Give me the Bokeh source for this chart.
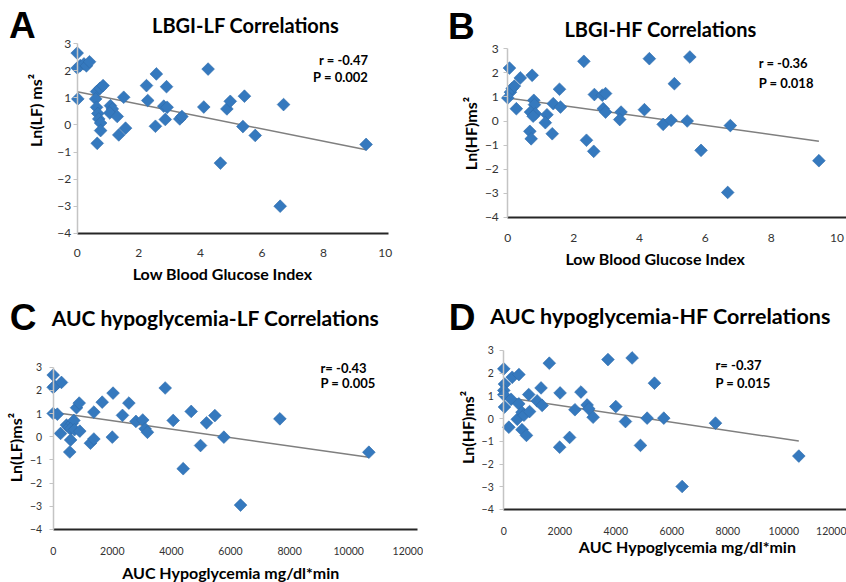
import numpy as np
from bokeh.plotting import figure
from bokeh.models import Range1d, Label, FixedTicker
from bokeh.layouts import column, row
from bokeh.embed import file_html
from bokeh.resources import INLINE

# ---------------- data ----------------
# Panel A: LBGI vs Ln(LF)
lbgi_a = [0.00, 0.00, 0.10, 0.22, 0.30, 0.40, 0.02, 0.63, 0.74, 0.84, 0.60, 0.63, 0.67, 0.70,
          0.76, 0.76, 0.65, 1.08, 1.14, 1.06, 1.30, 1.35, 1.51, 1.57, 2.25, 2.29, 2.57, 2.90,
          2.54, 2.81, 2.92, 2.86, 3.33, 3.40, 4.11, 4.25, 4.65, 4.86, 4.97, 5.43, 5.38, 5.78,
          6.70, 6.59, 9.38]
lf_a = [2.65, 2.10, 2.19, 2.25, 2.18, 2.33, 0.96, 1.23, 1.35, 1.45, 0.96, 0.65, 0.42, 0.22,
        0.07, -0.21, -0.68, 0.71, 0.59, 0.44, 0.31, -0.37, 1.02, -0.12, 1.45, 0.90, 1.88, 1.41,
        -0.05, 0.69, 0.65, 0.20, 0.22, 0.31, 0.66, 2.06, -1.41, 0.59, 0.87, 1.06, -0.06, -0.39,
        0.75, -3.00, -0.72]
trend_a_x = [0.0, 9.38]
trend_a_y = [1.22, -0.92]

# Panel B: LBGI vs Ln(HF)
lbgi_b = [0.05, 0.00, 0.08, 0.13, 0.20, 0.38, 0.26, 0.74, 0.79, 0.81, 0.69, 0.84, 0.77, 0.67,
          0.71, 1.19, 1.14, 1.35, 1.38, 1.57, 1.60, 2.31, 2.39, 2.61, 2.63, 2.87, 2.97, 2.90,
          2.97, 3.44, 3.40, 4.15, 4.30, 4.72, 4.96, 5.06, 5.45, 5.53, 5.87, 6.76, 6.68, 9.45]
hf_b = [2.20, 0.96, 1.20, 1.35, 1.45, 1.79, 0.51, 1.90, 0.86, 0.68, 0.37, 0.30, 0.20, -0.43,
        -0.74, 0.26, -0.07, -0.53, 0.72, 1.32, 0.58, 2.48, -0.80, -1.26, 1.10, 1.07, 1.14, 0.51,
        0.37, 0.37, 0.06, 0.47, 2.59, -0.14, 0.03, 1.55, 0.00, 2.66, -1.22, -0.19, -2.97, -1.65]
trend_b_x = [0.0, 9.45]
trend_b_y = [0.96, -0.84]

# Panel C: AUC hypoglycemia vs Ln(LF)
auc_c = [0, 0, 50, 280, 0, 140, 250, 450, 530, 640, 700, 590, 720, 900, 590, 560, 790, 880,
         1376, 1260, 1376, 1658, 2025, 2000, 2345, 2561, 2800, 3030, 3110, 3190, 3790, 4061,
         4399, 4670, 4986, 5189, 5471, 5776, 7671, 6340, 10682]
lf_c = [2.66, 2.13, 2.18, 2.34, 1.00, 0.97, 0.14, 0.50, 0.41, 0.58, 0.70, 0.34, 0.30, 0.24,
        -0.14, -0.66, 1.25, 1.45, 1.06, -0.28, -0.10, 1.49, 1.88, -0.02, 0.92, 1.45, 0.66, 0.72,
        0.34, 0.19, 2.10, 0.70, -1.38, 1.09, -0.38, 0.60, 0.91, -0.02, 0.77, -2.95, -0.67]
trend_c_x = [0, 10682]
trend_c_y = [1.05, -0.89]

# Panel D: AUC hypoglycemia vs Ln(HF)
auc_d = [0, 24, 0, 0, 24, 180, 300, 540, 260, 535, 480, 650, 720, 650, 810, 920, 890, 1190,
         1330, 1370, 1625, 2010, 1995, 2350, 2540, 2755, 2976, 3036, 3190, 3720, 4000, 4345,
         4583, 4881, 5119, 5381, 5714, 6369, 7560, 10536]
hf_d = [2.19, 1.52, 1.24, 1.05, 0.51, -0.38, 1.82, 1.94, 0.85, 0.65, -0.03, 0.28, 0.15, -0.49,
        -0.74, 0.31, 1.06, 0.78, 1.35, 0.58, 2.44, 1.13, -1.26, -0.83, 0.39, 1.17, 0.60, 0.43,
        0.06, 2.60, 0.53, -0.13, 2.67, -1.18, 0.02, 1.56, 0.02, -2.99, -0.20, -1.65]
trend_d_x = [0, 10536]
trend_d_y = [0.95, -0.99]

y_ticks = [-4, -3, -2, -1, 0, 1, 2, 3]
lbgi_ticks = [0, 2, 4, 6, 8, 10]
auc_ticks = [0, 2000, 4000, 6000, 8000, 10000, 12000]

# ---------------- style ----------------
BLUE = "#3579be"
FONT = "Lato"
LETTER_FONT = "Liberation Sans"
W, H = 423, 291


def panel(xs, ys, tx, ty, xticks, cfg):
    # pixel position of the data origin inside the figure and pixels per unit
    ox, oy, kx, ky = cfg["map"]
    xr = Range1d(-ox / kx, (W - ox) / kx)
    yr = Range1d(-(H - oy) / ky, oy / ky)
    p = figure(width=W, height=H, output_backend="svg", toolbar_location=None,
               title=None, x_range=xr, y_range=yr,
               min_border_left=0, min_border_right=0, min_border_top=0, min_border_bottom=0)
    p.outline_line_color = None
    p.grid.visible = False
    p.background_fill_color = "white"
    p.border_fill_color = "white"

    ya = p.yaxis[0]
    ya.fixed_location = 0
    ya.bounds = (-4, 3)
    ya.ticker = FixedTicker(ticks=y_ticks)
    ya.axis_line_color = "#c4c4c4"
    ya.axis_line_width = 1.5
    ya.major_tick_line_color = "#c4c4c4"
    ya.major_tick_out = 4
    ya.major_tick_in = 0
    ya.minor_tick_line_color = None
    ya.major_label_standoff = cfg["ystand"]
    ya.major_label_text_font = FONT
    ya.major_label_text_font_size = cfg["tick_fs"]
    ya.major_label_text_color = "#333333"

    xa = p.xaxis[0]
    xa.fixed_location = -4
    xa.bounds = cfg["xb"]
    xa.ticker = FixedTicker(ticks=xticks)
    xa.axis_line_color = "#262626"
    xa.axis_line_width = 2
    xa.major_tick_line_color = None
    xa.minor_tick_line_color = None
    xa.major_label_standoff = cfg["xstand"]
    xa.major_label_text_font = FONT
    xa.major_label_text_font_size = cfg["tick_fs"]
    xa.major_label_text_color = "#333333"

    p.line(tx, ty, line_color="#7f7f7f", line_width=1.5)
    p.scatter(xs, ys, marker="square", angle=np.pi / 4, size=9,
              fill_color=BLUE, line_color="#2f6cab", line_width=0.6)

    lx, ly = cfg["letter_pos"]
    p.add_layout(Label(x=lx, y=ly, text=cfg["letter"], text_font=LETTER_FONT,
                       text_font_style="bold", text_font_size="37px", text_color="black",
                       text_align="center", text_baseline="middle"))
    tx_, ty_ = cfg["title_pos"]
    p.add_layout(Label(x=tx_, y=ty_, text=cfg["title"], text_font=FONT,
                       text_font_style="bold", text_font_size=cfg["title_fs"], text_color="black",
                       text_align="center", text_baseline="middle"))
    xlx, xly = cfg["xlabel_pos"]
    p.add_layout(Label(x=xlx, y=xly, text=cfg["xlabel"], text_font=FONT,
                       text_font_style="bold", text_font_size="16px", text_color="black",
                       text_align="center", text_baseline="middle"))
    ylx, yly = cfg["ylabel_pos"]
    p.add_layout(Label(x=ylx, y=yly, text=cfg["ylabel"], text_font=FONT, angle=np.pi / 2,
                       text_font_style="bold", text_font_size="16px", text_color="black",
                       text_align="center", text_baseline="middle"))
    sx, align = cfg["stats_x"]
    for txt, sy in cfg["stats"]:
        p.add_layout(Label(x=sx, y=sy, text=txt, text_font=FONT, text_font_style="bold",
                           text_font_size="13px", text_color="black",
                           text_align=align, text_baseline="middle"))
    return p


cfg_a = dict(map=(76.7, 124.4, 30.8, 27.1), xb=(0, 10.1), tick_fs="12px",
             ystand=2, xstand=10, letter="A", letter_pos=(-1.78, 3.65),
             title="LBGI-LF Correlations", title_pos=(5.47, 3.67), title_fs="20px",
             xlabel="Low Blood Glucose Index", xlabel_pos=(4.72, -5.48),
             ylabel="Ln(LF) ms²", ylabel_pos=(-1.35, 0.53),
             stats_x=(9.45, "right"), stats=[("r = -0.47", 2.38), ("P = 0.002", 1.75)])
cfg_b = dict(map=(84.3, 120.5, 32.92, 24.06), xb=(0, 10.3), tick_fs="12px",
             ystand=5, xstand=11, letter="B", letter_pos=(-1.41, 3.91),
             title="LBGI-HF Correlations", title_pos=(4.64, 3.84), title_fs="20px",
             xlabel="Low Blood Glucose Index", xlabel_pos=(4.48, -5.71),
             ylabel="Ln(HF)ms²", ylabel_pos=(-1.13, -0.52),
             stats_x=(7.62, "left"), stats=[("r = -0.36", 2.43), ("P = 0.018", 1.60)])
cfg_c = dict(map=(52.7, 145.2, 0.02955, 23.19), xb=(0, 12330), tick_fs="10.5px",
             ystand=7, xstand=12, letter="C", letter_pos=(-1022, 5.16),
             title="AUC hypoglycemia-LF Correlations", title_pos=(5492, 5.12), title_fs="21px",
             xlabel="AUC Hypoglycemia mg/dl*min", xlabel_pos=(6007, -5.86),
             ylabel="Ln(LF)ms²", ylabel_pos=(-1276, -0.47),
             stats_x=(9046, "left"), stats=[("r= -0.43", 2.98), ("P = 0.005", 2.30)])
cfg_d = dict(map=(80.3, 127.1, 0.028, 22.71), xb=(0, 12300), tick_fs="10.5px",
             ystand=6, xstand=12, letter="D", letter_pos=(-1493, 4.43),
             title="AUC hypoglycemia-HF Correlations", title_pos=(5596, 4.50), title_fs="21.5px",
             xlabel="AUC Hypoglycemia mg/dl*min", xlabel_pos=(6557, -5.63),
             ylabel="Ln(HF)ms²", ylabel_pos=(-1296, -0.39),
             stats_x=(7561, "left"), stats=[("r= -0.37", 2.34), ("P = 0.015", 1.55)])

pa = panel(lbgi_a, lf_a, trend_a_x, trend_a_y, lbgi_ticks, cfg_a)
pb = panel(lbgi_b, hf_b, trend_b_x, trend_b_y, lbgi_ticks, cfg_b)
pc = panel(auc_c, lf_c, trend_c_x, trend_c_y, auc_ticks, cfg_c)
pd_ = panel(auc_d, hf_d, trend_d_x, trend_d_y, auc_ticks, cfg_d)

layout = column(row(pa, pb), row(pc, pd_))
open("out.html", "w").write(file_html(layout, INLINE))
